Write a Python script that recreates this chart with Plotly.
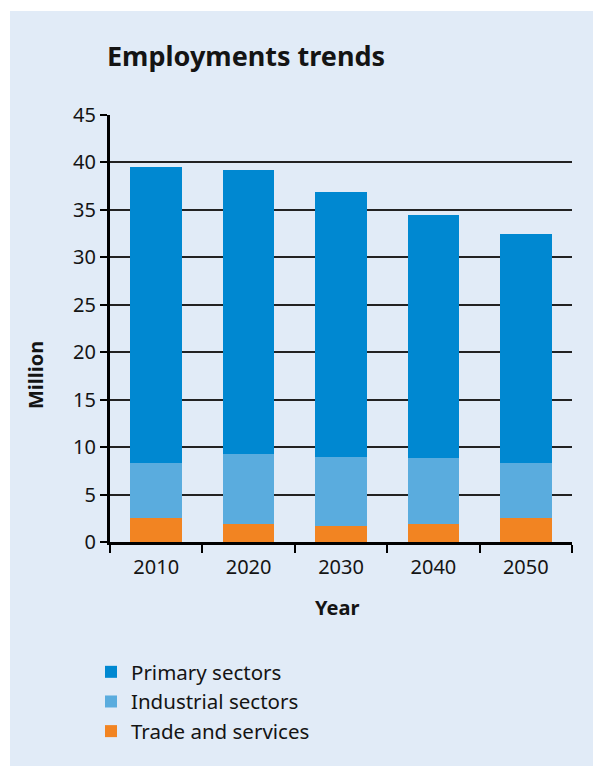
import plotly.graph_objects as go

# Employment by sector, million people
years = ["2010", "2020", "2030", "2040", "2050"]
trade_services = [2.5, 1.9, 1.7, 1.9, 2.5]
industrial = [5.8, 7.35, 7.3, 7.0, 5.8]
primary = [31.2, 29.95, 27.85, 25.6, 24.15]

series_names = ["Trade and services", "Industrial sectors", "Primary sectors"]
series_colors = ["#f28422", "#5aacde", "#0088d1"]

FONT = "Noto Sans"
INK = "#141414"
PANEL = "#e1ebf7"

W, H = 593, 766
L, R, T, B = 110, 21, 115, 224
PW, PH = W - L - R, H - T - B


def px_x(p):
    return (p - L) / PW


def px_y(p):
    return (H - B - p) / PH


fig = go.Figure()
for name, vals, col in zip(series_names, [trade_services, industrial, primary], series_colors):
    fig.add_trace(go.Bar(x=years, y=vals, name=name, marker=dict(color=col, line=dict(width=0))))

# Light panel behind the whole chart, leaving a thin white border top/left
fig.add_shape(type="rect", xref="paper", yref="paper", layer="below",
              x0=px_x(10), x1=px_x(W + 5), y0=px_y(H + 5), y1=px_y(11),
              fillcolor=PANEL, line=dict(width=0))

fig.add_annotation(text="<b>Employments trends</b>", xref="paper", yref="paper",
                   x=px_x(105), y=px_y(55), xanchor="left", yanchor="middle",
                   showarrow=False, font=dict(family=FONT, size=27, color=INK))
fig.add_annotation(text="<b>Million</b>", xref="paper", yref="paper",
                   x=px_x(35), y=px_y(375), xanchor="center", yanchor="middle", textangle=-90,
                   showarrow=False, font=dict(family=FONT, size=20, color=INK))
fig.add_annotation(text="<b>Year</b>", xref="paper", yref="paper",
                   x=px_x(337), y=px_y(607), xanchor="center", yanchor="middle",
                   showarrow=False, font=dict(family=FONT, size=20, color=INK))

fig.update_layout(
    width=W, height=H,
    margin=dict(l=L, r=R, t=T, b=B),
    paper_bgcolor="white",
    plot_bgcolor="rgba(0,0,0,0)",
    barmode="stack",
    bargap=0.44,
    font=dict(family=FONT, size=20, color=INK),
    showlegend=True,
    legend=dict(x=px_x(91), y=px_y(652), xanchor="left", yanchor="top",
                traceorder="reversed", bgcolor="rgba(0,0,0,0)",
                font=dict(family=FONT, size=20.5, color=INK),
                tracegroupgap=0, itemsizing="constant", itemwidth=30),
    xaxis=dict(
        showgrid=False, showline=True, linecolor="black", linewidth=3,
        ticks="outside", tickson="boundaries", ticklen=8, tickwidth=2, tickcolor="black",
        tickfont=dict(size=20, color=INK), zeroline=False, ticklabelstandoff=5,
    ),
    yaxis=dict(
        range=[0, 45], dtick=5, tick0=0,
        showgrid=True, gridcolor="#222222", gridwidth=1.5,
        showline=True, linecolor="black", linewidth=3,
        ticks="outside", ticklen=7, tickwidth=1.5, tickcolor="black",
        tickfont=dict(size=20, color=INK), zeroline=False,
    ),
)

fig.write_html("out.html")
